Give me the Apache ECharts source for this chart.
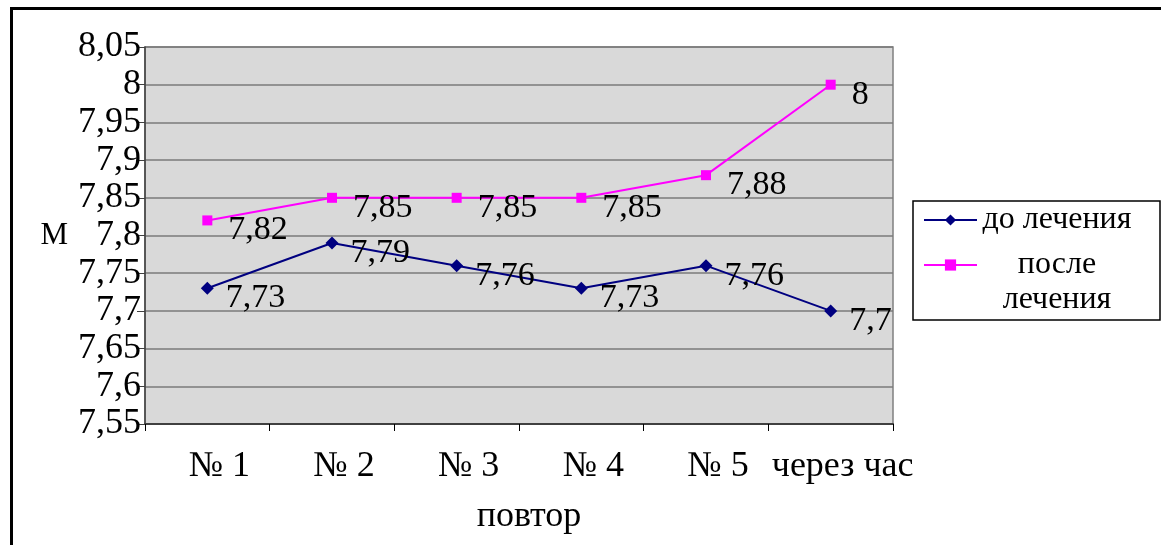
<!DOCTYPE html>
<html>
<head>
<meta charset="utf-8">
<script src="https://cdn.jsdelivr.net/npm/echarts@6/dist/echarts.min.js"></script>
<style>
  html, body { margin: 0; padding: 0; background: #fff; overflow: hidden; }
  #chart { width: 1161px; height: 545px; }
</style>
</head>
<body>
<div id="chart"></div>
<script>
// Repeat measurements and the mean value M before / after treatment
const categories = ['№ 1', '№ 2', '№ 3', '№ 4', '№ 5', 'через час'];
const beforeTreatment = [7.73, 7.79, 7.76, 7.73, 7.76, 7.7];
const afterTreatment = [7.82, 7.85, 7.85, 7.85, 7.88, 8];
const seriesNames = ['до лечения', 'после лечения'];
const yMin = 7.55, yMax = 8.05, yStep = 0.05;

const FONT = '"Liberation Serif", "Times New Roman", serif';

// Decimal comma, trailing zeros dropped: 7.9 -> "7,9", 8 -> "8"
function fmt(v) {
  return String(Number(v.toFixed(2))).replace('.', ',');
}

const chart = echarts.init(document.getElementById('chart'), null, { renderer: 'canvas' });

const labelStyle = {
  show: true,
  position: 'right',
  offset: [0, 10],
  fontFamily: FONT,
  fontSize: 34,
  color: '#000',
  formatter: p => fmt(p.value)
};

chart.setOption({
  animation: false,
  backgroundColor: '#fff',
  graphic: [{
    type: 'rect',
    left: 9, top: 6,
    shape: { width: 1200, height: 600 },
    style: { fill: 'none', stroke: '#000', lineWidth: 3 },
    silent: true,
    z: 100
  }],
  grid: {
    left: 145, right: 268, top: 47, bottom: 121,
    show: true,
    backgroundColor: '#d9d9d9',
    borderColor: '#808080',
    borderWidth: 1.5
  },
  legend: {
    orient: 'vertical',
    left: 913, top: 201,
    padding: [3, 28, 4, 10],
    itemGap: -22,
    itemWidth: 53,
    itemHeight: 14,
    borderColor: '#000',
    borderWidth: 1.5,
    backgroundColor: '#fff',
    data: seriesNames,
    formatter: name => {
      if (name === seriesNames[1]) {
        // empty first line keeps the marker level with "после"
        return '{e|}\n{a|после}\n{a|лечения}';
      }
      return '{a|' + name + '}';
    },
    textStyle: {
      fontFamily: FONT,
      fontSize: 32,
      color: '#000',
      rich: {
        a: { fontFamily: FONT, fontSize: 32, lineHeight: 35, width: 150, align: 'center', color: '#000' },
        e: { fontSize: 32, lineHeight: 35 }
      }
    }
  },
  xAxis: {
    type: 'category',
    data: categories,
    boundaryGap: true,
    name: 'повтор',
    nameLocation: 'middle',
    nameGap: 75,
    nameTextStyle: { fontFamily: FONT, fontSize: 36, color: '#000', padding: [0, 0, 0, 20] },
    axisLine: { lineStyle: { color: '#404040', width: 2 } },
    axisTick: { show: true, alignWithLabel: false, length: 7, lineStyle: { color: '#000', width: 1 } },
    axisLabel: {
      fontFamily: FONT, fontSize: 36, color: '#000',
      margin: 25,
      padding: [0, 0, 0, 24],
      interval: 0
    },
    splitLine: { show: false }
  },
  yAxis: {
    type: 'value',
    min: yMin, max: yMax, interval: yStep,
    name: 'M',
    nameLocation: 'middle',
    nameRotate: 0,
    nameGap: 77,
    nameTextStyle: { fontFamily: FONT, fontSize: 31, color: '#000' },
    axisLine: { show: true, lineStyle: { color: '#404040', width: 1.5 } },
    axisTick: { show: true, length: 8, lineStyle: { color: '#404040', width: 1 } },
    axisLabel: {
      fontFamily: FONT, fontSize: 36, color: '#000',
      margin: 4,
      formatter: v => fmt(v)
    },
    splitLine: { show: true, lineStyle: { color: '#7a7a7a', width: 1.5 } }
  },
  series: [
    {
      name: seriesNames[0],
      type: 'line',
      data: beforeTreatment,
      symbol: 'diamond',
      symbolSize: 13,
      itemStyle: { color: '#000080' },
      lineStyle: { color: '#000080', width: 2 },
      label: Object.assign({}, labelStyle, { distance: 12 }),
      z: 3
    },
    {
      name: seriesNames[1],
      type: 'line',
      data: afterTreatment,
      symbol: 'rect',
      symbolSize: 10,
      itemStyle: { color: '#ff00ff' },
      lineStyle: { color: '#ff00ff', width: 2 },
      label: Object.assign({}, labelStyle, { distance: 16 }),
      z: 4
    }
  ]
});
</script>
</body>
</html>
